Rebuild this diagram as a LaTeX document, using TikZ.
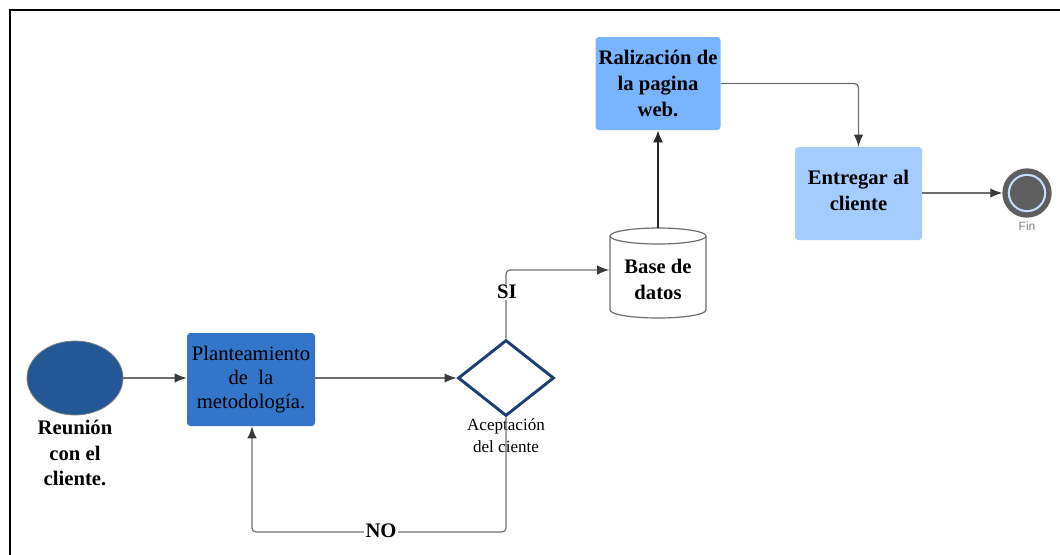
\documentclass[tikz,border=0pt]{standalone}
\usepackage{fontspec}
\setmainfont{Liberation Serif}
\newfontfamily\finfont{Liberation Sans}
\usetikzlibrary{shapes.geometric,arrows.meta}
\definecolor{ellblue}{HTML}{245795}
\definecolor{planblue}{HTML}{3376C9}
\definecolor{ralblue}{HTML}{78B4FF}
\definecolor{entblue}{HTML}{A5CCFF}
\definecolor{navy}{HTML}{1D3F72}
\definecolor{linegray}{HTML}{6E6E6E}
\definecolor{tipgray}{HTML}{3A3A3A}
\definecolor{ringgray}{HTML}{5E5E5E}
\definecolor{ringblue}{HTML}{C8DEFF}
\tikzset{
  conn/.style={draw=linegray, line width=0.9pt, rounded corners=3pt, -{Latex[length=9pt,width=7pt,color=tipgray]}},
  procbox/.style={rectangle, rounded corners=2.5pt, draw=none, inner sep=0pt, align=center},
  boldtxt/.style={font=\fontsize{15.5pt}{19.5pt}\selectfont\bfseries},
  regtxt/.style={font=\fontsize{15.5pt}{18pt}\selectfont},
  lbl/.style={fill=white, inner sep=1pt, font=\fontsize{15.5pt}{18pt}\selectfont\bfseries}
}
\begin{document}
\begin{tikzpicture}[x=0.75pt,y=-0.75pt]
\useasboundingbox (0,0) rectangle (1060,554);
% frame
\draw[line width=2.2pt, line cap=rect] (1062,10) -- (10,10) -- (10,556);

% nodes
\node[ellipse, fill=ellblue, draw=gray, line width=0.6pt, minimum width=72pt, minimum height=55.5pt, inner sep=0pt] (start) at (75,378) {};
\node[align=center, font=\fontsize{15.5pt}{19pt}\selectfont\bfseries] (startlbl) at (75,453) {Reunión\\con el\\cliente.};

\node[procbox, fill=planblue, minimum width=96pt, minimum height=69.75pt, regtxt] (plan) at (251,379.5) {Planteamiento\\de\ \ la\\metodología.};

\node[diamond, draw=navy, line width=2.2pt, fill=white, minimum width=72pt, minimum height=57pt, inner sep=0pt] (dec) at (506,378) {};
\node[align=center, font=\fontsize{12.8pt}{16.5pt}\selectfont] (declbl) at (506,436) {Aceptación\\del ciente};

\node[rectangle, minimum width=72.75pt, minimum height=67.5pt, inner sep=0pt] (db) at (658,273) {};
\draw[draw=linegray, line width=0.9pt, fill=white]
  (610,236) -- (610,310) arc[start angle=180, end angle=0, x radius=48, y radius=8] -- (706,236)
  arc[start angle=0, end angle=-180, x radius=48, y radius=8] -- cycle;
\draw[draw=linegray, line width=0.9pt] (610,236) arc[start angle=180, end angle=0, x radius=48, y radius=8];
\node[align=center, boldtxt] (dbtxt) at (658,279) {Base de\\datos};

\node[procbox, fill=ralblue, minimum width=93.75pt, minimum height=69.75pt, boldtxt] (ral) at (658,83.5) {Ralización de\\la pagina\\web.};

\node[procbox, fill=entblue, minimum width=95.25pt, minimum height=69.75pt] (ent) at (858.5,193.5) {};
\node[align=center, boldtxt] (enttxt) at (858.5,190) {Entregar al\\cliente};

\node[circle, draw=ringgray, line width=4pt, fill=ringblue, minimum size=33pt, inner sep=0pt] (fin) at (1027,193) {};
\node[circle, fill=ringgray, minimum size=25.5pt, inner sep=0pt] (fininner) at (fin.center) {};
\node[font=\finfont\fontsize{9pt}{10pt}\selectfont, text=gray] (finlbl) at (1027,226) {Fin};

% connectors
\draw[conn] (start.east) -- (start.east -| plan.west);
\draw[conn] (plan.east |- dec.west) -- (dec.west);
\coordinate (nr) at (506,532);
\coordinate (nl) at (252,532);
\draw[conn] (dec.south) -- (nr) -- (nl) -- (nl |- plan.south);
\node[lbl] (no) at (381,531) {NO};
\coordinate (sic) at (506,270);
\draw[conn] (dec.north) -- (sic) -- (sic -| db.west);
\node[lbl] (si) at (507,292) {SI};
\draw[draw=black!85, line width=1.5pt, -{Latex[length=9pt,width=7.5pt]}] (db.north) -- (ral.south);
\draw[conn] (ral.east) -| (ent.north);
\draw[conn] (fin.west -| ent.east) -- (fin.west);
\end{tikzpicture}
\end{document}
